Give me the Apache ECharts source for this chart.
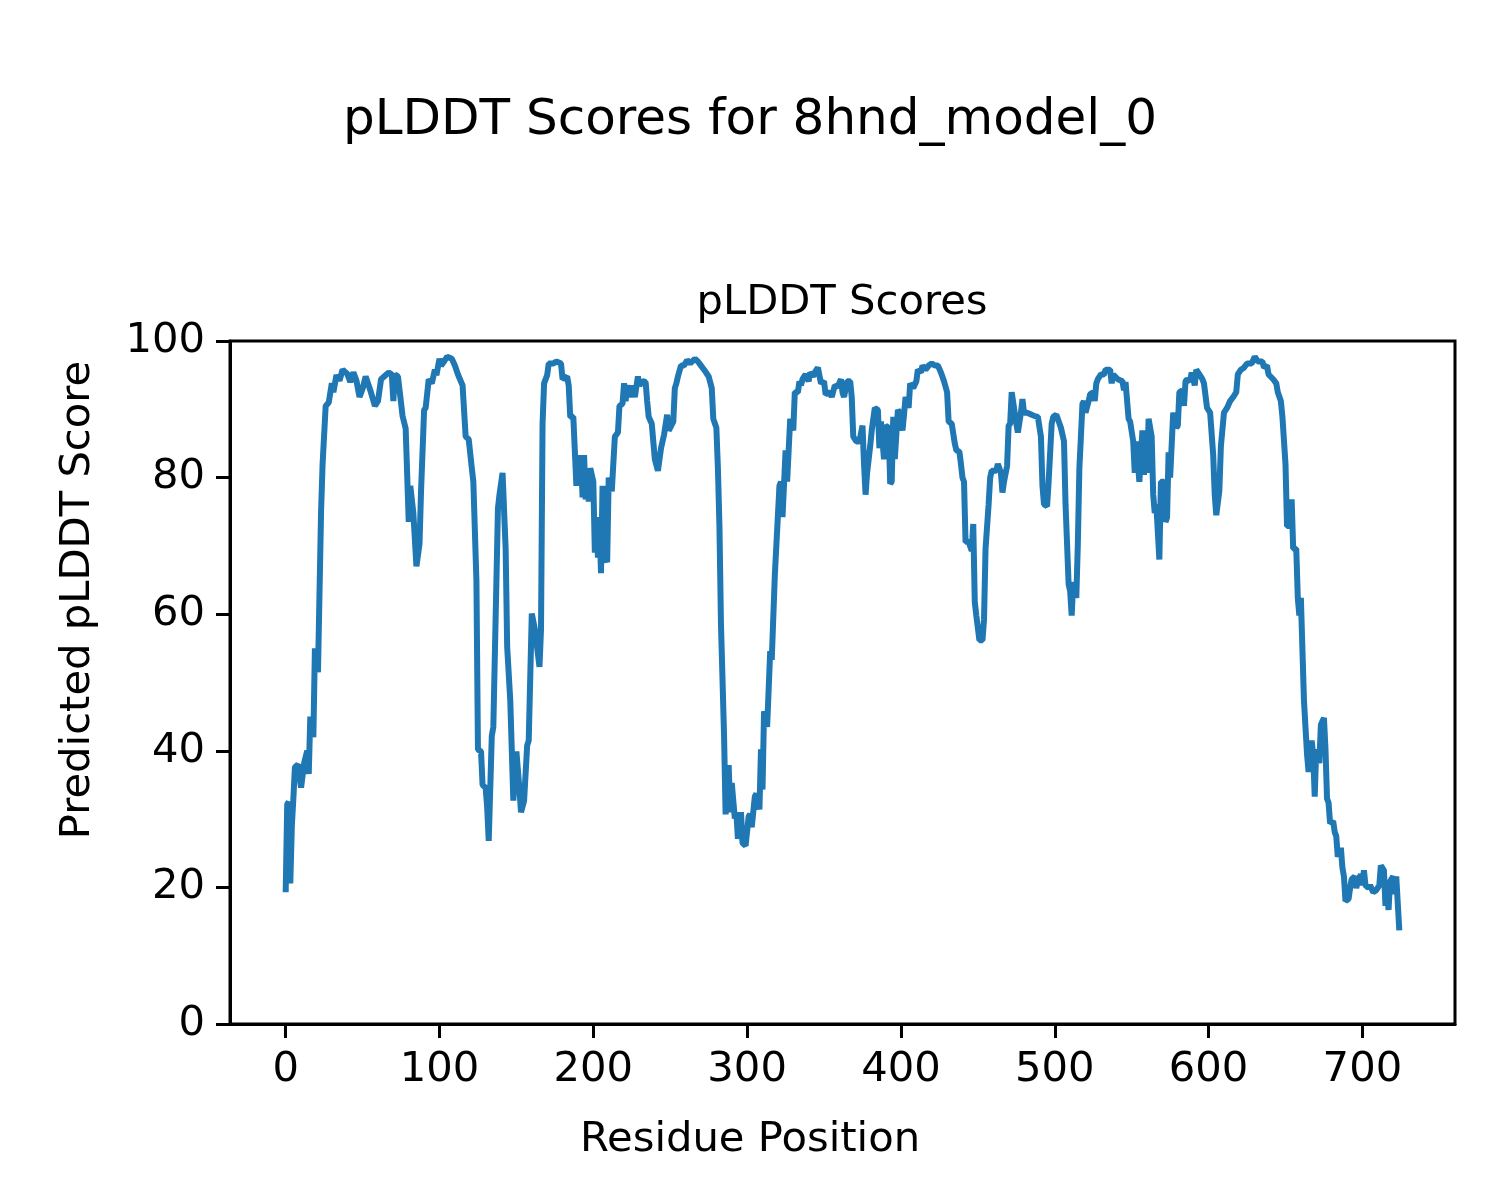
<!DOCTYPE html>
<html>
<head>
<meta charset="utf-8">
<script src="https://cdn.jsdelivr.net/npm/echarts@6/dist/echarts.min.js"></script>
<style>
html,body{margin:0;padding:0;background:#fff;}
#chart{width:1500px;height:1200px;}
</style>
</head>
<body>
<div id="chart"></div>
<script>
// Residue positions and pLDDT scores
const residues = [0,1,2,3,4,5,6,8,10,12,14,15,16,18,19,21,23,24,26,28,30,31,33,35,37,40,42,44,46,48,50,52,55,58,60,62,64,67,69,70,71,73,76,78,80,81,83,85,87,88,90,91,93,95,97,98,100,101,103,105,108,110,112,115,117,119,121,122,124,125,127,128,130,131,132,134,135,138,139,141,143,144,146,148,150,152,153,155,157,158,160,162,165,166,167,168,170,171,174,176,179,180,183,184,185,187,189,190,191,192,193,194,195,196,197,198,200,201,202,203,204,205,206,208,209,210,212,213,214,216,217,219,220,221,222,224,225,227,229,230,232,234,235,236,238,240,242,243,244,246,248,249,250,252,253,254,255,257,259,261,263,266,268,270,272,275,277,278,280,281,282,283,285,286,288,289,290,292,293,294,296,297,299,301,302,303,305,306,308,309,310,311,313,315,316,318,319,321,322,323,324,325,326,327,328,330,331,333,334,335,336,338,340,341,343,344,346,348,350,351,354,355,357,359,361,362,363,365,367,368,369,371,373,375,376,377,378,380,381,383,385,386,387,388,389,390,392,393,394,395,396,398,399,401,402,403,405,406,408,410,411,413,414,416,418,420,422,424,426,428,430,431,433,435,436,438,439,440,441,442,444,446,447,448,449,451,453,454,455,457,458,459,462,463,465,466,467,469,470,471,472,473,475,476,478,479,480,482,485,487,489,491,492,493,495,496,498,499,501,502,504,506,507,509,510,511,512,514,515,516,517,518,519,520,522,523,525,526,527,528,530,532,533,536,537,538,539,541,542,544,545,546,547,548,549,551,552,553,554,555,556,557,558,559,560,561,563,564,565,566,568,569,571,572,573,574,575,576,577,579,580,581,583,584,585,586,588,589,591,592,594,596,597,599,601,603,604,605,607,608,610,612,614,616,618,619,621,623,625,628,630,632,635,636,638,639,642,644,645,647,648,650,651,653,654,655,657,658,659,660,662,664,665,667,668,669,670,672,673,675,676,677,678,679,681,682,683,684,686,687,688,689,691,692,693,695,696,697,699,700,701,702,704,705,707,709,711,712,714,715,716,717,718,720,721,722,723,724];
const scores = [19.3,32.2,32.5,20.6,29.0,33.0,37.6,38.0,34.6,38.2,40.0,36.6,45.0,42.0,55.0,51.5,75.0,82.0,90.5,91.0,93.8,92.5,95.0,94.2,95.8,95.2,94.0,95.4,94.2,91.8,93.0,94.8,92.8,90.5,91.2,94.4,94.8,95.4,95.1,91.2,95.1,94.8,89.0,87.2,73.5,78.8,74.8,67.0,70.3,78.0,89.9,90.2,94.4,93.8,95.8,95.0,97.4,96.4,97.0,97.7,97.4,96.4,95.1,93.5,86.0,85.6,81.4,79.4,65.0,40.2,39.9,35.0,34.6,31.7,26.8,42.2,43.5,75.5,77.5,80.7,69.6,55.2,47.4,32.7,39.9,34.3,31.0,32.7,40.8,41.5,60.1,57.8,52.3,57.8,87.9,93.8,95.0,96.7,96.7,97.0,96.7,94.4,94.8,93.5,88.9,88.9,78.8,83.3,78.8,83.3,77.1,83.3,76.8,80.7,76.5,81.4,79.4,69.0,74.2,68.3,73.5,66.0,78.8,68.3,67.6,80.0,78.0,78.0,86.0,86.6,90.5,90.8,93.8,91.2,93.5,91.8,93.5,91.8,94.8,93.5,94.1,94.0,91.2,88.9,87.9,82.7,81.0,81.0,84.3,86.3,89.2,86.9,87.3,88.2,93.1,93.8,94.8,96.4,96.4,97.2,96.7,97.4,97.0,96.4,95.8,94.8,93.1,88.6,87.3,81.4,72.9,58.5,42.2,30.7,37.9,31.0,35.3,30.1,31.0,27.1,31.0,26.5,26.1,30.4,30.7,28.8,33.3,33.7,31.4,40.2,34.3,45.8,43.5,54.6,53.3,65.7,65.7,78.8,79.4,74.2,74.2,84.0,79.4,84.0,88.6,86.9,92.5,92.5,94.1,93.5,94.4,95.1,94.1,95.4,94.8,95.4,96.1,93.8,94.1,92.2,92.5,91.8,93.5,93.3,94.4,92.5,91.8,94.1,94.1,91.8,86.0,85.3,85.3,87.6,82.0,77.5,80.7,84.6,86.9,90.2,89.9,84.3,88.2,85.3,82.7,87.6,87.3,79.1,79.4,88.9,82.7,89.9,89.6,86.9,89.2,91.8,90.2,93.8,93.1,94.1,95.8,95.4,96.4,95.8,96.4,96.7,96.4,96.4,95.4,94.1,92.5,88.2,87.9,85.0,84.0,83.8,82.0,80.0,79.4,70.6,70.6,69.3,73.2,61.8,59.8,56.2,56.2,59.2,69.6,76.1,80.0,81.0,81.0,82.0,80.7,77.8,79.4,81.7,87.6,87.9,92.5,92.5,87.9,86.6,89.5,91.5,89.5,89.5,89.2,89.0,88.9,86.0,78.8,76.1,75.8,79.4,87.9,88.9,89.2,88.6,87.3,85.3,76.1,64.4,63.4,59.8,64.7,62.4,70.3,81.4,86.0,90.8,91.2,89.5,91.2,92.2,92.5,91.2,93.8,94.4,95.1,95.1,95.8,95.8,93.8,95.1,95.1,94.4,94.4,94.1,92.8,94.0,94.0,88.6,88.2,85.3,80.7,85.3,85.3,79.4,79.4,86.9,80.4,86.0,80.7,88.6,86.0,77.5,74.8,76.1,68.0,79.4,79.4,73.5,74.2,83.7,80.0,80.0,89.5,87.3,87.6,92.5,92.8,90.5,94.1,94.4,94.1,95.4,93.5,95.8,95.1,94.4,93.8,90.2,89.5,83.3,77.5,74.5,78.1,84.6,89.5,90.2,91.2,91.8,92.5,95.1,95.8,96.1,96.7,96.7,97.7,97.0,97.0,96.1,96.4,95.1,94.4,93.8,92.5,91.2,88.9,82.0,72.9,72.9,76.8,69.6,69.6,62.4,59.8,62.4,47.4,39.5,36.9,41.5,39.5,33.3,40.2,38.2,43.8,44.8,40.2,33.0,32.4,29.4,29.7,28.1,27.5,24.5,25.8,22.9,21.6,18.0,18.3,19.9,21.2,21.6,19.9,20.9,21.9,20.3,22.5,20.3,19.9,20.3,19.3,19.6,20.3,23.2,22.5,17.3,19.9,16.7,20.9,21.6,19.0,21.6,21.6,13.7];
const xTicks = [0,100,200,300,400,500,600,700];
const yTicks = [0,20,40,60,80,100];
const titleText = 'pLDDT Scores for 8hnd_model_0';
const axesTitle = 'pLDDT Scores';
const xLabel = 'Residue Position';
const yLabel = 'Predicted pLDDT Score';

const points = residues.map((r, i) => [r, scores[i]]);
const FONT = '"DejaVu Sans", sans-serif';
const chart = echarts.init(document.getElementById('chart'), null, {renderer: 'canvas'});
chart.setOption({
  animation: false,
  backgroundColor: '#ffffff',
  grid: {left: 230, right: 45, top: 341, bottom: 176, show: true, borderColor: '#000', borderWidth: 3, backgroundColor: 'transparent'},
  xAxis: {
    type: 'value', min: -36.2, max: 760.2,
    axisLine: {show: true, onZero: false, lineStyle: {color: '#000', width: 3}},
    axisTick: {show: true, length: 14, inside: false, customValues: xTicks, lineStyle: {color: '#000', width: 3}},
    axisLabel: {show: true, customValues: xTicks, margin: 25, fontSize: 41.7, fontFamily: FONT, color: '#000'},
    splitLine: {show: false}
  },
  yAxis: {
    type: 'value', min: 0, max: 100, interval: 20,
    axisLine: {show: true, onZero: false, lineStyle: {color: '#000', width: 3}},
    axisTick: {show: true, length: 14, inside: false, lineStyle: {color: '#000', width: 3}},
    axisLabel: {show: true, margin: 25, fontSize: 41.7, fontFamily: FONT, color: '#000'},
    splitLine: {show: false}
  },
  graphic: [
    {type: 'text', x: 750, y: 121, style: {text: titleText, font: '50px ' + FONT, fill: '#000', align: 'center', verticalAlign: 'middle'}},
    {type: 'text', x: 842, y: 303, style: {text: axesTitle, font: '41.7px ' + FONT, fill: '#000', align: 'center', verticalAlign: 'middle'}},
    {type: 'text', x: 750, y: 1140, style: {text: xLabel, font: '41.7px ' + FONT, fill: '#000', align: 'center', verticalAlign: 'middle'}},
    {type: 'text', x: 78, y: 600, rotation: Math.PI / 2, style: {text: yLabel, font: '41.7px ' + FONT, fill: '#000', align: 'center', verticalAlign: 'middle'}}
  ],
  series: [{
    type: 'line', data: points, showSymbol: false, smooth: false,
    lineStyle: {color: '#1f77b4', width: 6}, itemStyle: {color: '#1f77b4'}
  }]
});
</script>
</body>
</html>
